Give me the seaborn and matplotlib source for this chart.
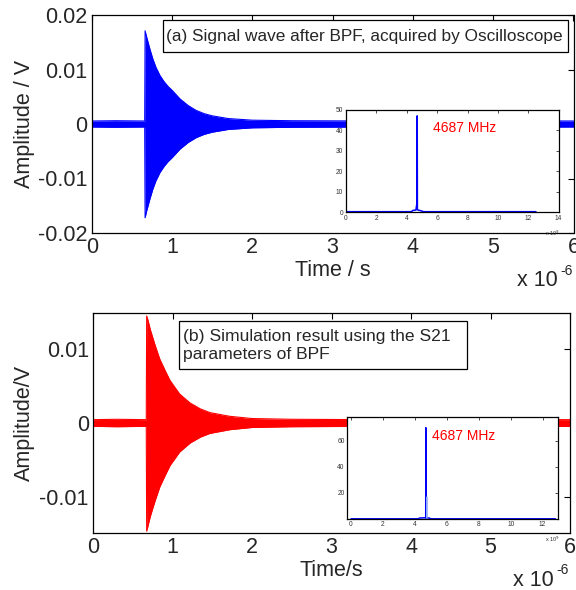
import numpy as np
import pandas as pd
import matplotlib
matplotlib.use("Agg")
import matplotlib.pyplot as plt
from matplotlib.patches import Rectangle
import seaborn as sns

# ---------------- data ----------------
# (a) measured waveform envelope, time in microseconds
t_a = [0.0, 0.30, 0.66, 0.665, 0.68, 0.72, 0.76, 0.80, 0.85, 0.90, 0.95, 1.00,
       1.10, 1.20, 1.30, 1.40, 1.50, 1.70, 2.00, 2.50, 3.50, 4.50, 6.00]
up_a = [0.00055, 0.0006, 0.00055, 0.0171, 0.0162, 0.0140, 0.0120, 0.0104, 0.0089,
        0.0078, 0.0069, 0.0062, 0.0046, 0.0034, 0.0025, 0.0019, 0.0015, 0.0010,
        0.0007, 0.0006, 0.00055, 0.0006, 0.00055]
lo_a = [-0.00055, -0.0006, -0.00055, -0.0172, -0.0162, -0.0140, -0.0120, -0.0104,
        -0.0089, -0.0078, -0.0069, -0.0062, -0.0046, -0.0034, -0.0025, -0.0019,
        -0.0015, -0.0010, -0.0007, -0.0006, -0.00055, -0.0006, -0.00055]

# (b) simulated waveform envelope
t_b = [0.0, 0.30, 0.67, 0.675, 0.69, 0.72, 0.78, 0.84, 0.91, 0.97, 1.09, 1.22,
       1.35, 1.47, 1.72, 2.00, 2.50, 3.50, 4.50, 6.00]
up_b = [0.00045, 0.0005, 0.00045, 0.0144, 0.0139, 0.0126, 0.0105, 0.0086, 0.0070,
        0.0057, 0.0039, 0.0027, 0.0019, 0.0014, 0.0009, 0.0006, 0.0005, 0.00045,
        0.0005, 0.00045]
lo_b = [-0.00045, -0.0005, -0.00045, -0.01455, -0.0139, -0.0126, -0.0105, -0.0086,
        -0.0070, -0.0057, -0.0039, -0.0027, -0.0019, -0.0014, -0.0009, -0.0006,
        -0.0005, -0.00045, -0.0005, -0.00045]

# spectra (frequency in 1e9 Hz)
f_a = [0.0, 4.3, 4.4, 4.6, 4.68, 4.687, 4.70, 4.8, 5.0, 5.1, 12.5]
s_a = [0.3, 0.3, 0.9, 1.1, 5.0, 47.0, 1.2, 1.0, 0.6, 0.3, 0.3]
f_b = [0.0, 4.2, 4.3, 4.6, 4.68, 4.687, 4.70, 4.9, 5.0, 12.8]
s_b = [0.2, 0.2, 0.8, 1.0, 1.0, 70.0, 1.0, 0.8, 0.2, 0.2]
f_b2 = [4.74, 4.75, 4.76]
s_b2 = [1.0, 17.0, 1.0]

main_xticks = [0, 1, 2, 3, 4, 5, 6]
ticks_a = [-0.02, -0.01, 0, 0.01, 0.02]
ticklabels_a = ["-0.02", "-0.01", "0", "0.01", "0.02"]
ticks_b = [-0.01, 0, 0.01]
ticklabels_b = ["-0.01", "0", "0.01"]
inset_xticks_a = [0, 2, 4, 6, 8, 10, 12, 14]
inset_yticks_a = [0, 10, 20, 30, 40, 50]
inset_xticks_b = [0, 2, 4, 6, 8, 10, 12]
inset_yticks_b = [20, 40, 60]

title_a = "(a) Signal wave after BPF, acquired by Oscilloscope"
title_b = "(b) Simulation result using the S21\nparameters of BPF"
peak_label = "4687 MHz"

# ---------------- style ----------------
sns.set_style("white")
plt.rcParams["font.family"] = ["Liberation Sans", "DejaVu Sans"]
plt.rcParams["xtick.direction"] = "in"
plt.rcParams["ytick.direction"] = "in"

W, H = 576, 590
fig = plt.figure(figsize=(W / 100, H / 100), dpi=100)

def px(l, t, r, b):
    return [l / W, 1 - b / H, (r - l) / W, (b - t) / H]

ax_a = fig.add_axes(px(91.7, 15, 573.5, 233))
ax_b = fig.add_axes(px(93, 313, 570, 533))
in_a = fig.add_axes(px(346, 109.7, 558.7, 212.3))
in_b = fig.add_axes(px(347.3, 417.3, 558.3, 518.7))

def style_main(ax, yt, ytl, ylim):
    ax.set_xlim(0, 6)
    ax.set_ylim(*ylim)
    ax.set_xticks(main_xticks)
    ax.set_xticklabels([str(v) for v in main_xticks])
    ax.set_yticks(yt)
    ax.set_yticklabels(ytl)
    ax.tick_params(axis="both", labelsize=15.5, length=4, width=0.8, color="black",
                   top=True, right=True, direction="in", pad=3)
    for s in ax.spines.values():
        s.set_visible(True)
        s.set_color("black")
        s.set_linewidth(0.9)

def style_inset(ax, xl, yl, xt, yt):
    ax.set_xlim(*xl)
    ax.set_ylim(*yl)
    ax.set_xticks(xt)
    ax.set_yticks(yt)
    ax.tick_params(axis="both", labelsize=4.8, length=2.5, width=0.6, colors="#333333",
                   top=True, right=True, direction="in", pad=2)
    ax.set_xlabel("")
    ax.set_ylabel("")
    for s in ax.spines.values():
        s.set_visible(True)
        s.set_color("black")
        s.set_linewidth(0.9)
    ax.set_facecolor("white")

def fig_box(l, t, r, b):
    fig.add_artist(Rectangle((l / W, 1 - b / H), (r - l) / W, (b - t) / H,
                             transform=fig.transFigure, fc="white", ec="black",
                             lw=0.9, zorder=5))

# (a) waveform
ax_a.fill_between(t_a, lo_a, up_a, color="#0000ff", lw=0)
df_a = pd.DataFrame({"t": t_a + t_a, "v": up_a + lo_a,
                     "edge": ["u"] * len(t_a) + ["l"] * len(t_a)})
sns.lineplot(data=df_a, x="t", y="v", units="edge", estimator=None, sort=False,
             color="#0000ff", lw=0.8, solid_joinstyle="round", ax=ax_a)
style_main(ax_a, ticks_a, ticklabels_a, (-0.02, 0.02))
ax_a.set_xlabel("Time / s", fontsize=15.5, labelpad=1)
ax_a.set_ylabel("Amplitude / V", fontsize=15.5, labelpad=2)
fig_box(162.7, 20, 568, 52.3)
fig.text(165.5 / W, 1 - 36.5 / H, title_a, fontsize=12.4, va="center", ha="left", zorder=6)

# (b) waveform
ax_b.fill_between(t_b, lo_b, up_b, color="#ff0000", lw=0)
df_b = pd.DataFrame({"t": t_b + t_b, "v": up_b + lo_b,
                     "edge": ["u"] * len(t_b) + ["l"] * len(t_b)})
sns.lineplot(data=df_b, x="t", y="v", units="edge", estimator=None, sort=False,
             color="#ff0000", lw=0.8, solid_joinstyle="round", ax=ax_b)
style_main(ax_b, ticks_b, ticklabels_b, (-0.0148, 0.0148))
ax_b.set_xlabel("Time/s", fontsize=15.5, labelpad=1)
ax_b.set_ylabel("Amplitude/V", fontsize=15.5, labelpad=3)
fig_box(179, 320.7, 466.7, 369.3)
fig.text(183 / W, 1 - 346 / H, title_b, fontsize=12.6, va="center", ha="left",
         linespacing=1.25, zorder=6)

# insets
sns.lineplot(x=f_a, y=s_a, sort=False, estimator=None, color="#0000ff", lw=1.1, ax=in_a)
style_inset(in_a, (0, 14), (0, 50), inset_xticks_a, inset_yticks_a)
in_a.text(5.75, 41, peak_label, color="#ff0000", fontsize=10, va="center")

sns.lineplot(x=f_b, y=s_b, sort=False, estimator=None, color="#0000ff", lw=1.1, ax=in_b)
sns.lineplot(x=f_b2, y=s_b2, sort=False, estimator=None, color="#8fa8ff", lw=0.8, ax=in_b)
style_inset(in_b, (-0.23, 12.98), (0.3, 78), inset_xticks_b, inset_yticks_b)
in_b.text(5.1, 64, peak_label, color="#ff0000", fontsize=10, va="center")

# multiplier texts
fig.text(545 / W, 1 - 233 / H, "x 10$^9$", fontsize=4, color="#333333", ha="left", va="center")
fig.text(545 / W, 1 - 539 / H, "x 10$^9$", fontsize=4, color="#333333", ha="left", va="center")
fig.text(517 / W, 1 - 281 / H, "x 10", fontsize=15.5, ha="left", va="center")
fig.text(560 / W, 1 - 271 / H, "-6", fontsize=10, ha="left", va="center")
fig.text(513 / W, 1 - 580 / H, "x 10", fontsize=15.5, ha="left", va="center")
fig.text(556 / W, 1 - 570 / H, "-6", fontsize=10, ha="left", va="center")

fig.savefig("out.png", dpi=100)
